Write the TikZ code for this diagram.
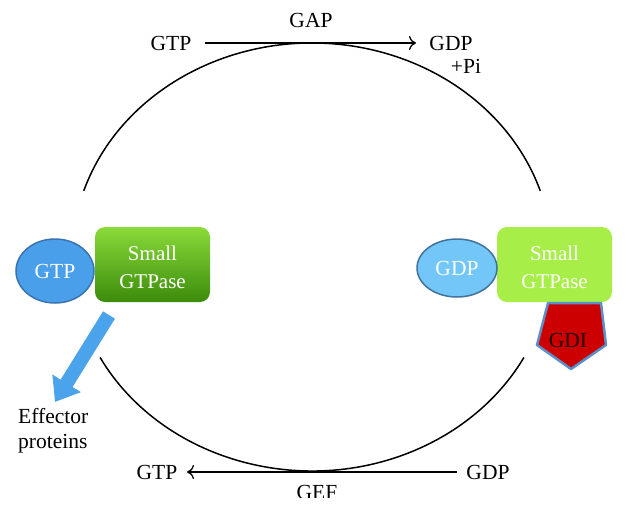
\documentclass[tikz,border=0pt]{standalone}
\usepackage{fontspec}
\setmainfont{Liberation Serif}
\usetikzlibrary{arrows.meta,shapes.geometric}
\definecolor{gtpblue}{HTML}{4A9FEA}
\definecolor{gtpedge}{HTML}{3A74B0}
\definecolor{gdpblue}{HTML}{72C6F8}
\definecolor{gdpedge}{HTML}{41719C}
\definecolor{boxtop}{HTML}{8ADA3A}
\definecolor{boxbot}{HTML}{3C8C0C}
\definecolor{limebox}{HTML}{A8EE48}
\definecolor{gdired}{HTML}{CC0000}
\definecolor{gdiedge}{HTML}{5B8FC8}
\definecolor{arrowblue}{HTML}{4BA3EB}
\tikzset{
  lbl/.style={font=\fontsize{21.5}{24}\selectfont, inner sep=0pt},
  boxtxt/.style={font=\fontsize{21}{28}\selectfont, text=white, align=center},
  cycle/.style={line width=1.5pt, black},
  react/.style={line width=1.3pt, -{To[length=7pt,width=14pt]}},
  ell/.style={ellipse, line width=1.5pt, font=\fontsize{21.5}{24}\selectfont, text=white, inner sep=0pt},
}
\begin{document}
\begin{tikzpicture}[x=1pt,y=-1pt]
\useasboundingbox (0,0) rectangle (625,512);
\clip (0,0) rectangle (625,512);
% cycle arcs
\coordinate (tl) at ({312+240*cos(-162)},{257+214*sin(-162)});
\coordinate (bl) at ({312+240*cos(152)},{257+214*sin(152)});
\draw[cycle] (tl) arc[start angle=-162, end angle=-18, x radius=240, y radius=214];
\draw[cycle] (bl) arc[start angle=152, end angle=28, x radius=240, y radius=214];
% top reaction
\node[lbl] (gtpT) at (171,43) {GTP};
\node[lbl] (gdpT) at (451,43) {GDP};
\node[lbl] (gap) at (311,20) {GAP};
\node[lbl] (pi) at (466,66) {+Pi};
\coordinate (ts) at (205,43);
\coordinate (te) at (416,43);
\draw[react] (ts) -- (te);
% bottom reaction
\node[lbl] (gtpB) at (157,472) {GTP};
\node[lbl] (gdpB) at (488,472) {GDP};
\begin{scope}
\clip (0,0) rectangle (625,497);
\node[lbl] (gef) at (317,492) {GEF};
\end{scope}
\coordinate (bs) at (457,472);
\coordinate (be) at (187,472);
\draw[react] (bs) -- (be);
% left group
\draw[draw=none, rounded corners=10pt, top color=boxtop, bottom color=boxbot]
  (95,227) rectangle (210,302);
\node[boxtxt] (sgL) at (152.5,267) {Small\\GTPase};
\node[ell, fill=gtpblue, draw=gtpedge, minimum width=78pt, minimum height=64pt] (gtpL) at (55,271) {GTP};
% effector arrow
\coordinate (as) at (109,315);
\coordinate (at) at (55,402);
\draw[arrowblue, line width=14pt, -{Triangle[length=22pt,width=32pt]}] (as) -- (at);
\node[lbl, align=left, anchor=north west, font=\fontsize{21.5}{25}\selectfont] (eff) at (18,408) {Effector\\proteins};
% right group
\draw[draw=none, rounded corners=10pt, fill=limebox] (497,227) rectangle (612,302);
\node[boxtxt] (sgR) at (554.5,267) {Small\\GTPase};
\node[ell, fill=gdpblue, draw=gdpedge, minimum width=80pt, minimum height=58pt] (gdpR) at (457,268) {GDP};
% GDI pentagon
\draw[fill=gdired, draw=gdiedge, line width=2.5pt, line join=round]
  (548,303) -- (601,303) -- (606,345) -- (571,369) -- (537,345) -- cycle;
\node[lbl, text=black!85!red] (gdi) at (568,340) {GDI};
\end{tikzpicture}
\end{document}
